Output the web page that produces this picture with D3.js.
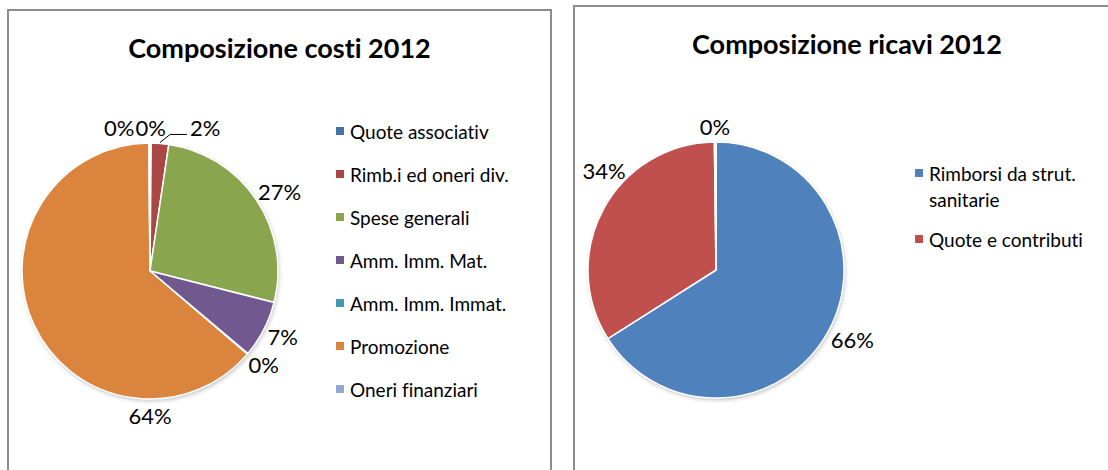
<!DOCTYPE html>
<html>
<head>
<meta charset="utf-8">
<script src="https://cdn.jsdelivr.net/npm/d3@7/dist/d3.min.js"></script>
<style>
  body { margin: 0; background: #fff; }
  svg { display: block; font-family: Lato, "Open Sans", sans-serif; font-variant-ligatures: none; }
</style>
</head>
<body>
<div id="svg-container"></div>
<script>
// Costs pie (percent shares).
const costCategories = ['Quote associativ', 'Rimb.i ed oneri div.', 'Spese generali', 'Amm. Imm. Mat.',
  'Amm. Imm. Immat.', 'Promozione', 'Oneri finanziari'];
const costValues = [0.15, 2.2, 26.6, 7.2, 0.1, 63.6, 0.15];
const costColors = ['#4572A7', '#AA4643', '#89A54E', '#71588F', '#4198AF', '#DB843D', '#93A9CF'];

// Revenues pie; the third slice has no legend entry.
const revenueCategories = ['Rimborsi da strut. sanitarie', 'Quote e contributi', ''];
const revenueValues = [66.0, 33.8, 0.2];
const revenueColors = ['#4F81BD', '#C0504D', '#9BBB59'];

const width = 1108;
const height = 470;

const svg = d3.select('#svg-container')
  .append('svg')
  .attr('width', width)
  .attr('height', height);

// Soft shadow under the pies.
const filter = svg.append('defs').append('filter')
  .attr('id', 'shadow')
  .attr('x', '-10%').attr('y', '-10%')
  .attr('width', '130%').attr('height', '130%');
filter.append('feDropShadow')
  .attr('dx', 1).attr('dy', 2)
  .attr('stdDeviation', 2)
  .attr('flood-color', '#000')
  .attr('flood-opacity', 0.25);

function drawChart(opts)
{
  const box = opts.box;
  const g = svg.append('g');

  g.append('rect')
    .attr('x', box.left)
    .attr('y', box.top)
    .attr('width', box.right - box.left)
    .attr('height', box.bottom - box.top)
    .attr('fill', '#fff')
    .attr('stroke', '#8c8c8c')
    .attr('stroke-width', 2);

  g.append('text')
    .attr('x', (box.left + box.right) / 2)
    .attr('y', opts.titleY)
    .attr('text-anchor', 'middle')
    .style('font-size', '27px')
    .style('font-weight', 'bold')
    .text(opts.title);

  const data = opts.categories.map((c, i) => ({name: c, value: opts.values[i], color: opts.colors[i]}));
  const total = d3.sum(data, (d) => d.value);

  const pie = d3.pie().sort(null).value((d) => d.value);
  const arcs = pie(data);
  const r = opts.radius;
  const arc = d3.arc().innerRadius(0).outerRadius(r);

  const pieG = g.append('g')
    .attr('transform', `translate(${opts.cx}, ${opts.cy})`);

  pieG.append('circle')
    .attr('r', r)
    .attr('fill', '#fff')
    .attr('filter', 'url(#shadow)');

  pieG.selectAll('path')
    .data(arcs)
    .enter()
    .append('path')
    .attr('d', arc)
    .attr('fill', (d) => d.data.color)
    .attr('stroke', '#fff')
    .attr('stroke-width', 1.5)
    .attr('stroke-linejoin', 'round');

  // Data labels, Excel "best fit"-ish placement outside the pie.
  const fontSize = 22;
  const labelH = 20;
  const pad = 6;
  const labels = arcs.map((d) =>
    {
      const text = Math.round(d.data.value / total * 100) + '%';
      const node = g.append('text')
        .attr('text-anchor', 'middle')
        .attr('dominant-baseline', 'central')
        .style('font-size', fontSize + 'px')
        .attr('fill', '#000')
        .text(text);
      return {d: d, text: text, node: node, w: node.node().getComputedTextLength(), pct: d.data.value / total * 100};
    });

  function posAt(l, a)
  {
    return {
      x: opts.cx + (r + pad) * Math.sin(a) + (l.w / 2) * Math.sin(a),
      y: opts.cy - (r + pad) * Math.cos(a) - (labelH / 2) * Math.cos(a)
    };
  }
  function fits(l, p)
  {
    return p.x - l.w / 2 >= box.left + 8 && p.x + l.w / 2 <= box.right - 8;
  }

  labels.forEach((l) =>
    {
      let a = (l.d.startAngle + l.d.endAngle) / 2;
      let p = posAt(l, a);
      if (!fits(l, p))
      {
        // Slide toward the nearest vertical axis; snap to it when the slice covers it.
        const targets = [0, Math.PI, 2 * Math.PI];
        const target = targets.reduce((b, t) => Math.abs(t - a) < Math.abs(b - a) ? t : b);
        if (target >= l.d.startAngle && target <= l.d.endAngle)
        {
          a = target;
        }
        else
        {
          const step = (target > a ? 1 : -1) * Math.PI / 360;
          while (!fits(l, posAt(l, a)) && a > l.d.startAngle && a < l.d.endAngle)
          {
            a += step;
          }
        }
        p = posAt(l, a);
      }
      l.angle = a;
      l.x0 = p.x;
      l.x = p.x;
      l.y = p.y;
    });

  // Spread labels that collide near the top of the pie.
  const norm = (a) => (a > Math.PI ? a - 2 * Math.PI : a);
  const topGroup = labels.filter((l) => Math.abs(norm(l.angle)) < Math.PI / 8)
    .sort((a, b) => a.x - b.x);
  if (topGroup.length > 1)
  {
    let anchor = 0;
    topGroup.forEach((l, i) =>
      {
        if (Math.abs(norm(l.angle)) < Math.abs(norm(topGroup[anchor].angle))) anchor = i;
      });
    for (let i = anchor + 1; i < topGroup.length; i++)
    {
      const prev = topGroup[i - 1];
      const cur = topGroup[i];
      const gap = cur.pct >= 1 ? 24 : 1;
      const minX = prev.x + prev.w / 2 + gap + cur.w / 2;
      if (cur.x < minX) cur.x = minX;
    }
    for (let i = anchor - 1; i >= 0; i--)
    {
      const next = topGroup[i + 1];
      const cur = topGroup[i];
      const gap = cur.pct >= 1 ? 24 : 1;
      const maxX = next.x - next.w / 2 - gap - cur.w / 2;
      if (cur.x > maxX) cur.x = maxX;
    }
  }

  labels.forEach((l) =>
    {
      l.node
        .attr('x', l.x)
        .attr('y', l.y);

      if (Math.abs(l.x - l.x0) > 15 && l.pct >= 1)
      {
        const mid = (l.d.startAngle + l.d.endAngle) / 2;
        const sx = opts.cx + (r + 1) * Math.sin(mid);
        const sy = opts.cy - (r + 1) * Math.cos(mid);
        const ly = l.y + 7;
        const lx = l.x > sx ? l.x - l.w / 2 - 3 : l.x + l.w / 2 + 3;
        const ex = sx + (lx > sx ? 10 : -10);
        g.append('path')
          .attr('d', `M${sx},${sy}L${ex},${ly}L${lx},${ly}`)
          .attr('fill', 'none')
          .attr('stroke', '#000')
          .attr('stroke-width', 1);
      }
    });

  // Legend.
  const leg = opts.legend;
  let y = leg.y;
  data.forEach((d) =>
    {
      if (!d.name) return;
      g.append('rect')
        .attr('x', leg.x)
        .attr('y', y - 4)
        .attr('width', 8)
        .attr('height', 8)
        .attr('fill', d.color);
      const t = g.append('text')
        .attr('x', leg.x + 14)
        .attr('y', y)
        .attr('dominant-baseline', 'central')
        .style('font-size', '19px')
        .attr('fill', '#000');
      // Wrap long entries.
      const words = d.name.split(' ');
      let line = [];
      let lines = 0;
      let tspan = t.append('tspan').attr('x', leg.x + 14).attr('y', y);
      words.forEach((w) =>
        {
          line.push(w);
          tspan.text(line.join(' '));
          if (tspan.node().getComputedTextLength() > leg.maxWidth && line.length > 1)
          {
            line.pop();
            tspan.text(line.join(' '));
            line = [w];
            lines++;
            tspan = t.append('tspan')
              .attr('x', leg.x + 14)
              .attr('y', y + lines * leg.lineH)
              .text(w);
          }
        });
      y += leg.step + lines * leg.lineH;
    });
}

drawChart({
  box: {left: 8, top: 10, right: 551, bottom: 480},
  title: 'Composizione costi 2012',
  titleY: 58,
  categories: costCategories,
  values: costValues,
  colors: costColors,
  cx: 150,
  cy: 271,
  radius: 128,
  legend: {x: 336, y: 131, step: 43, lineH: 26, maxWidth: 175}
});

drawChart({
  box: {left: 574, top: 6, right: 1120, bottom: 480},
  title: 'Composizione ricavi 2012',
  titleY: 54,
  categories: revenueCategories,
  values: revenueValues,
  colors: revenueColors,
  cx: 716,
  cy: 270,
  radius: 128,
  legend: {x: 915, y: 173, step: 40, lineH: 26, maxWidth: 165}
});
</script>
</body>
</html>
